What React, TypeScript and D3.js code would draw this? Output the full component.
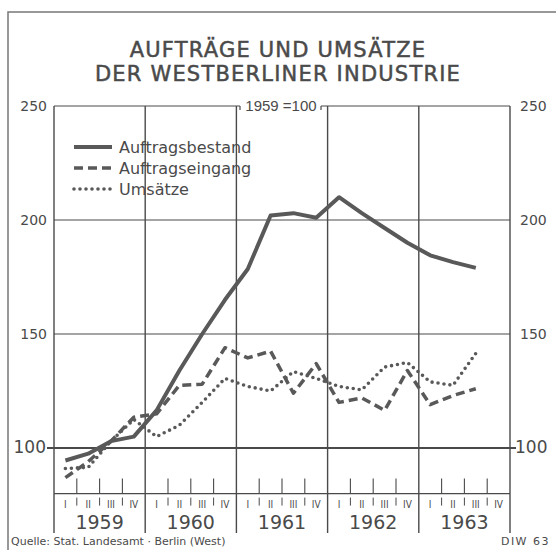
import React from 'react';
import * as d3 from 'd3';

// Quarterly index values, 1959 = 100
const years = ['1959', '1960', '1961', '1962', '1963'];
const quarterLabels = ['I', 'II', 'III', 'IV'];
const yTicks = [100, 150, 200, 250];

const auftragsbestand = [94.5, 97.5, 103, 105, 116.5, 134, 150, 165, 178.5, 202, 203, 201, 210, 203, 196.5, 190, 184.5, 181.5, 179];
const auftragseingang = [87, 94, 103, 113.5, 115, 127.5, 128, 144, 139.5, 142.5, 124, 137, 120, 122, 116.5, 134, 119, 123, 126];
const umsaetze = [91, 91.5, 103, 112.5, 105, 110, 120, 130.5, 127, 125, 133.5, 130.5, 127, 125.5, 135.5, 137.5, 129, 127.5, 141.5];

const seriesNames = ['Auftragsbestand', 'Auftragseingang', 'Umsätze'];

const INK = '#4a4a4a';
const LINE = '#595959';
const FONT = '"DejaVu Sans", sans-serif';
const NARROW = '"DejaVu Sans Condensed", "Liberation Sans Narrow", sans-serif';

const App = () => {
    const width = 556;
    const height = 550;
    const plotLeft = 54;
    const plotRight = 510;

    const x = d3.scaleLinear().domain([0, 20]).range([plotLeft, plotRight]);
    const y = d3.scaleLinear().domain([100, 250]).range([448, 106]);
    const axisY = y(80);

    const line = d3.line<number>()
        .x((d, i) => x(i + 0.5))
        .y(d => y(d))
        .curve(d3.curveLinear);

    const series = [
        { name: seriesNames[0], values: auftragsbestand, dash: undefined, width: 4, cap: 'butt' },
        { name: seriesNames[1], values: auftragseingang, dash: '9 5', width: 3.5, cap: 'butt' },
        { name: seriesNames[2], values: umsaetze, dash: '0 6', width: 3.6, cap: 'round' },
    ];

    const yearBounds = d3.range(0, 21, 4);
    const quarterBounds = d3.range(0, 20).filter(q => q % 4 !== 0);

    return (
        <svg width={width} height={height} style={{ position: 'absolute', left: 0, top: 0, background: '#fff' }}>
            {/* frame */}
            <path d={`M8,${height} L8,12 L${width},12`} fill="none" stroke="#777" strokeWidth={1.5} />

            {/* title */}
            <g fontFamily={FONT} fill={INK} stroke={INK} strokeWidth={0.5} textAnchor="middle" fontSize={21} letterSpacing={1.2}>
                <text x={278} y={57}>AUFTRÄGE UND UMSÄTZE</text>
                <text x={278} y={81}>DER WESTBERLINER INDUSTRIE</text>
            </g>

            {/* horizontal grid */}
            <g stroke={INK}>
                <line x1={plotLeft} x2={240} y1={y(250)} y2={y(250)} strokeWidth={1.2} />
                <line x1={321} x2={plotRight} y1={y(250)} y2={y(250)} strokeWidth={1.2} />
                <line x1={240} x2={240} y1={y(250)} y2={y(250) + 4} strokeWidth={1.2} />
                <line x1={321} x2={321} y1={y(250)} y2={y(250) + 4} strokeWidth={1.2} />
                {[200, 150].map(v => (
                    <line key={v} x1={plotLeft} x2={plotRight} y1={y(v)} y2={y(v)} strokeWidth={1.2} />
                ))}
                <line x1={plotLeft - 7} x2={plotRight + 6} y1={y(100)} y2={y(100)} strokeWidth={1.8} />
                <line x1={plotLeft} x2={plotRight} y1={axisY} y2={axisY} strokeWidth={1.3} />
            </g>

            {/* vertical year lines and quarter ticks */}
            <g stroke={INK} strokeWidth={1.4}>
                {yearBounds.map(q => (
                    <line key={q} x1={x(q)} x2={x(q)} y1={y(250)} y2={533} />
                ))}
                {quarterBounds.map(q => (
                    <g key={q}>
                        <line x1={x(q)} x2={x(q)} y1={axisY - 15} y2={axisY} strokeWidth={1.1} />
                        <line x1={x(q)} x2={x(q)} y1={axisY + 4} y2={axisY + 12} strokeWidth={1} />
                    </g>
                ))}
            </g>

            {/* y labels */}
            <g fontFamily={FONT} fill={INK}>
                <text x={281} y={y(250) + 5} fontSize={15} fontFamily='"Liberation Sans", sans-serif' textAnchor="middle">1959 =100</text>
                {yTicks.map(v => (
                    <g key={v} fontSize={v === 100 ? 17 : 14}>
                        <text x={v === 100 ? 46 : 47} y={y(v) + 5} textAnchor="end">{v}</text>
                        <text x={v === 100 ? 515 : 520} y={y(v) + 5} textAnchor="start">{v}</text>
                    </g>
                ))}
            </g>

            {/* x labels */}
            <g fontFamily={FONT} fill={INK} textAnchor="middle">
                {d3.range(0, 20).map(q => (
                    <text key={q} x={x(q + 0.5)} y={axisY + 14} fontSize={10} fontFamily={NARROW}>
                        {quarterLabels[q % 4]}
                    </text>
                ))}
                {years.map((yr, i) => (
                    <text key={yr} x={x(i * 4 + 2)} y={axisY + 35} fontSize={19}>{yr}</text>
                ))}
            </g>

            {/* series */}
            <g fill="none" stroke={LINE} strokeLinejoin="round">
                {series.map(s => (
                    <path key={s.name} d={line(s.values) || ''} strokeWidth={s.width}
                        strokeDasharray={s.dash} strokeLinecap={s.cap as any} />
                ))}
            </g>

            {/* legend */}
            <g fontFamily={FONT} fill={INK} fontSize={16}>
                {series.map((s, i) => {
                    const ly = 147 + i * 21;
                    return (
                        <g key={s.name}>
                            <line x1={74} x2={112} y1={ly} y2={ly} stroke={LINE} strokeWidth={s.width}
                                strokeDasharray={s.dash} strokeLinecap={s.cap as any} />
                            <text x={119} y={ly + 6}>{s.name}</text>
                        </g>
                    );
                })}
            </g>

            {/* source */}
            <g fontFamily={FONT} fill={INK} fontSize={11}>
                <text x={11} y={545}>Quelle: Stat. Landesamt · Berlin (West)</text>
                <text x={550} y={545} textAnchor="end" letterSpacing={1.5}>DIW 63</text>
            </g>
        </svg>
    );
};

export default App;
